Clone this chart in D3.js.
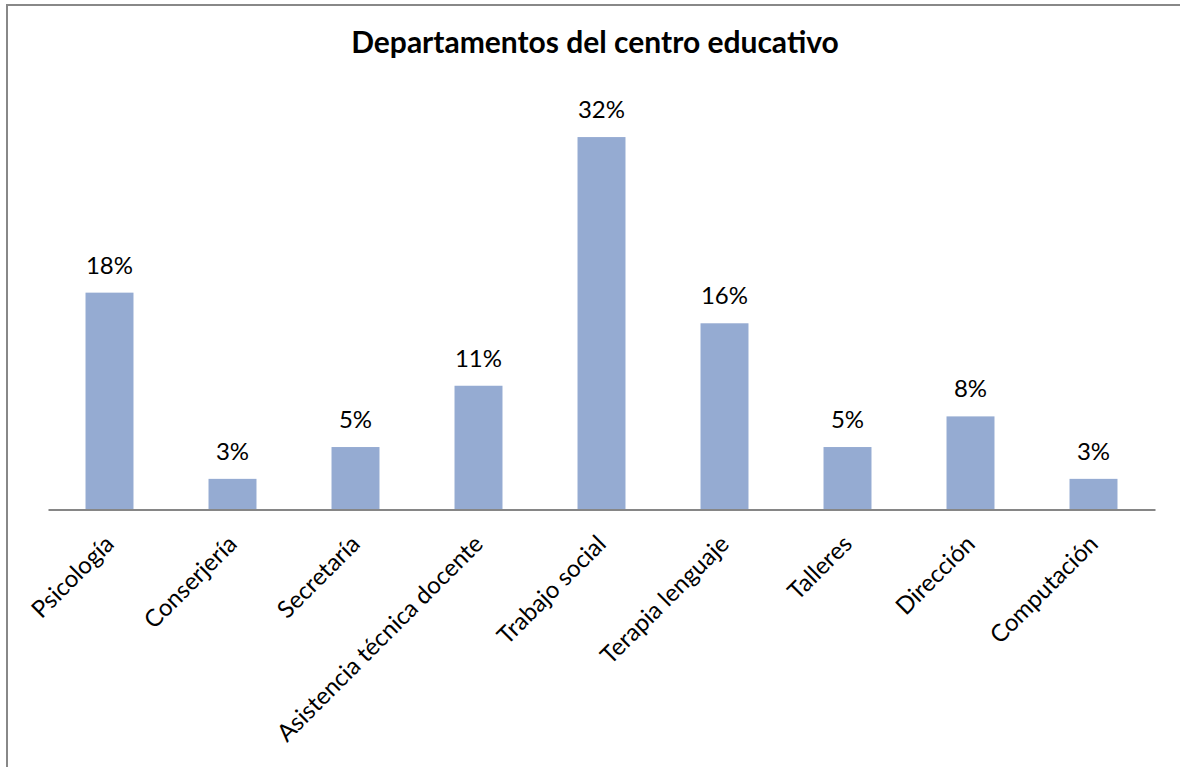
<!DOCTYPE html>
<html><head><meta charset="utf-8">
<script src="https://cdn.jsdelivr.net/npm/d3@7"></script>
<style>body{margin:0;background:#fff}svg{display:block}</style>
</head><body>
<svg id="c" width="1180" height="767"></svg>
<script>
const categories = ["Psicología","Conserjería","Secretaría","Asistencia técnica docente","Trabajo social","Terapia lenguaje","Talleres","Dirección","Computación"];
const values = [18.4, 2.6, 5.3, 10.5, 31.6, 15.8, 5.3, 7.9, 2.6];
const valueLabels = ["18%","3%","5%","11%","32%","16%","5%","8%","3%"];
const title = "Departamentos del centro educativo";

const svg = d3.select("#c");
const FONT = "Lato, 'Open Sans', sans-serif";
svg.append("rect").attr("x",7).attr("y",5).attr("width",1200).attr("height",800)
  .attr("fill","#fff").attr("stroke","#888").attr("stroke-width",2);

const x = d3.scaleBand().domain(categories).range([48,1155]).padding(0);
const y = d3.scaleLinear().domain([0,35]).range([509.5,97]);
const bw = x.bandwidth()*0.39;

svg.append("text").attr("x",595).attr("y",53).attr("text-anchor","middle")
  .attr("font-family",FONT).attr("font-weight","bold").attr("font-size",30).attr("fill","#000").text(title);

svg.selectAll("rect.bar").data(values).join("rect").attr("class","bar")
  .attr("x",(d,i)=>x(categories[i])+x.bandwidth()/2-bw/2).attr("width",bw)
  .attr("y",d=>y(d)).attr("height",d=>y(0)-y(d)).attr("fill","#95abd2");

svg.selectAll("text.vl").data(values).join("text").attr("class","vl")
  .attr("x",(d,i)=>x(categories[i])+x.bandwidth()/2).attr("y",d=>y(d)-19)
  .attr("text-anchor","middle").attr("font-family",FONT).attr("font-size",24).attr("fill","#000")
  .text((d,i)=>valueLabels[i]);

const ax = svg.append("g").attr("transform",`translate(0,${y(0)})`)
  .call(d3.axisBottom(x).tickSize(0).tickSizeOuter(0));
ax.select(".domain").attr("stroke","#868686").attr("stroke-width",2);
ax.selectAll(".tick text").attr("font-family",FONT).attr("font-size",24).attr("fill","#000")
  .attr("text-anchor","end").attr("dy",0).attr("y",0)
  .attr("transform","translate(6,36) rotate(-45)");
</script>
</body></html>
